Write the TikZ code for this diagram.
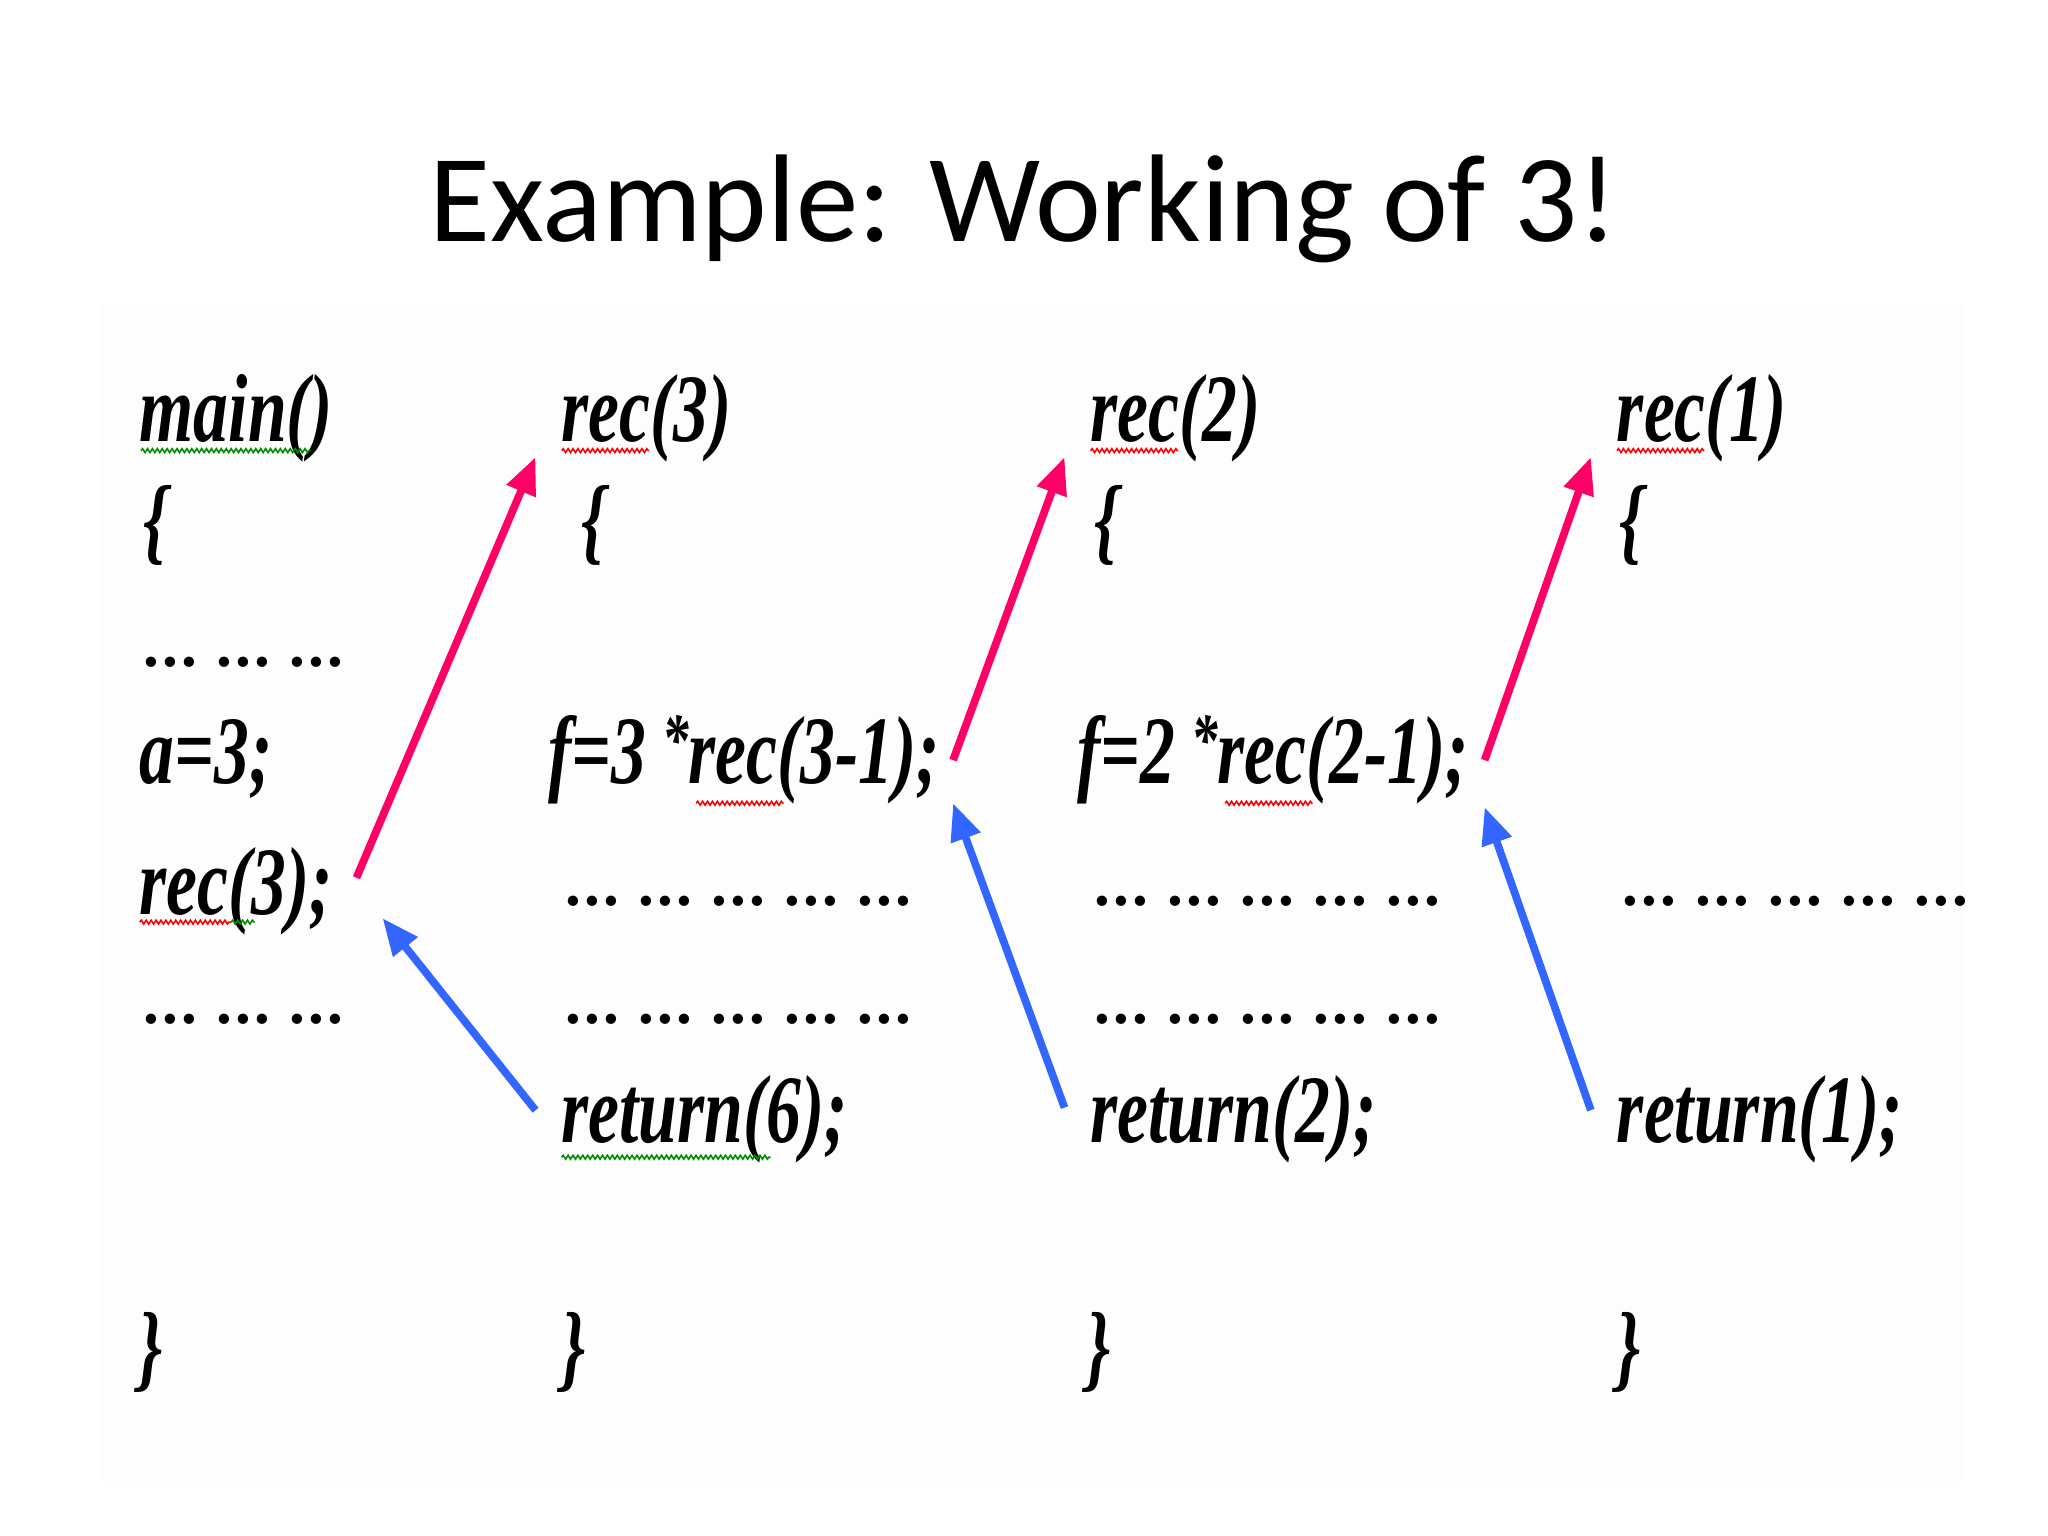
\documentclass[tikz,border=0pt]{standalone}
\usepackage{fontspec}
\setmainfont{Carlito}
\newfontfamily\codefont[FakeStretch=0.72]{Liberation Serif}
\newfontfamily\dotsfont{Liberation Serif}
\usetikzlibrary{arrows.meta,calc,decorations.pathmorphing}
\definecolor{callred}{RGB}{255,0,102}
\definecolor{retblue}{RGB}{51,102,255}
\definecolor{sqgreen}{RGB}{0,140,0}
\definecolor{paper}{RGB}{253,253,254}
\newcommand{\raisedstar}{\raisebox{0.2em}{\fontsize{21}{21}\selectfont *}}
\newcommand{\dotgrp}{.\kern0.9pt.\kern0.9pt.}
\newcommand{\grpgap}{\kern5.5pt}
\newcommand{\threegrp}{\dotgrp\grpgap\dotgrp\grpgap\dotgrp}
\newcommand{\fivegrp}{\dotgrp\grpgap\dotgrp\grpgap\dotgrp\grpgap\dotgrp\grpgap\dotgrp}
\tikzset{
  code/.style={anchor=base west, inner sep=0pt, outer sep=0pt,
    font=\codefont\bfseries\itshape\fontsize{27.5}{30}\selectfont},
  dotrow/.style={anchor=base west, inner sep=0pt, outer sep=0pt,
    font=\dotsfont\bfseries\fontsize{18}{20}\selectfont},
  callarrow/.style={draw=callred, line width=2.2pt,
    -{Triangle[length=10.5pt,width=8.5pt]}},
  retarrow/.style={draw=retblue, line width=2.2pt,
    -{Triangle[length=10.5pt,width=8.5pt]}},
  squig/.style={line width=0.45pt, decorate,
    decoration={snake, amplitude=0.55pt, segment length=1.4pt}},
  sqred/.style={squig, draw=red},
  sqgrn/.style={squig, draw=sqgreen},
}
\begin{document}
\begin{tikzpicture}[x=0.01306cm, y=-0.01306cm]
\useasboundingbox (0,0) rectangle (1568,1176);
\fill[paper] (75,232) rectangle (1505,1135);

% title
\node[anchor=base, inner sep=0pt, font=\fontsize{35.5}{40}\selectfont] (title) at (784,185) {Example: Working of 3!};

% column 1: main
\node[code] (mainh) at (107,338) {main()};
\node[code] (mainob) at (110,423) {\{};
\node[dotrow] (maind1) at (110,510) {\threegrp};
\node[code] (maina) at (107,600) {a=3;};
\node[code] (mainc) at (107,700) {rec(3);};
\node[dotrow] (maind2) at (110,784) {\threegrp};
\node[code] (maincb) at (106,1056) {\}};

% column 2: rec(3)
\node[code] (r3h) at (430,338) {rec(3)};
\node[code] (r3ob) at (445,423) {\{};
\node[code] (r3f) at (420,600) {f=3\,\raisedstar rec(3-1);};
\node[dotrow] (r3d1) at (433,693) {\fivegrp};
\node[dotrow] (r3d2) at (433,784) {\fivegrp};
\node[code] (r3ret) at (430,875) {return(6);};
\node[code] (r3cb) at (430,1056) {\}};

% column 3: rec(2)
\node[code] (r2h) at (835,338) {rec(2)};
\node[code] (r2ob) at (838,423) {\{};
\node[code] (r2f) at (825,600) {f=2\,\raisedstar rec(2-1);};
\node[dotrow] (r2d1) at (838,693) {\fivegrp};
\node[dotrow] (r2d2) at (838,784) {\fivegrp};
\node[code] (r2ret) at (835,875) {return(2);};
\node[code] (r2cb) at (832,1056) {\}};

% column 4: rec(1)
\node[code] (r1h) at (1238,338) {rec(1)};
\node[code] (r1ob) at (1240,423) {\{};
\node[dotrow] (r1d1) at (1242,693) {\fivegrp};
\node[code] (r1ret) at (1238,875) {return(1);};
\node[code] (r1cb) at (1238,1056) {\}};

% spell-check squiggles
\draw[sqgrn] ($(mainh.base west)+(1,7)$) -- ++(130,0);
\draw[sqred] ($(r3h.base west)+(0,7)$) -- ++(67,0);
\draw[sqred] ($(r2h.base west)+(0,7)$) -- ++(67,0);
\draw[sqred] ($(r1h.base west)+(0,7)$) -- ++(67,0);
\draw[sqred] ($(mainc.base west)+(0,6)$) -- ++(70,0);
\draw[sqgrn] ($(mainc.base west)+(70,6)$) -- ++(18,0);
\draw[sqred] ($(r3f.base west)+(113,15)$) -- ++(67,0);
\draw[sqred] ($(r2f.base west)+(113,15)$) -- ++(67,0);
\draw[sqgrn] ($(r3ret.base west)+(0,11)$) -- ++(160,0);

% call arrows
\draw[callarrow] ($(mainc.base east)+(18,-28)$) -- ($(r3h.base west)+(-20,12)$);
\draw[callarrow] ($(r3f.base east)+(10,-18)$) -- ($(r2h.base west)+(-20,12)$);
\draw[callarrow] ($(r2f.base east)+(12,-18)$) -- ($(r1h.base west)+(-20,12)$);

% return arrows
\draw[retarrow] ($(r3ret.base west)+(-20,-25)$) -- ($(mainc.base east)+(38,3)$);
\draw[retarrow] ($(r2ret.base west)+(-20,-27)$) -- ($(r3f.base east)+(10,15)$);
\draw[retarrow] ($(r1ret.base west)+(-20,-25)$) -- ($(r2f.base east)+(12,18)$);
\end{tikzpicture}
\end{document}
